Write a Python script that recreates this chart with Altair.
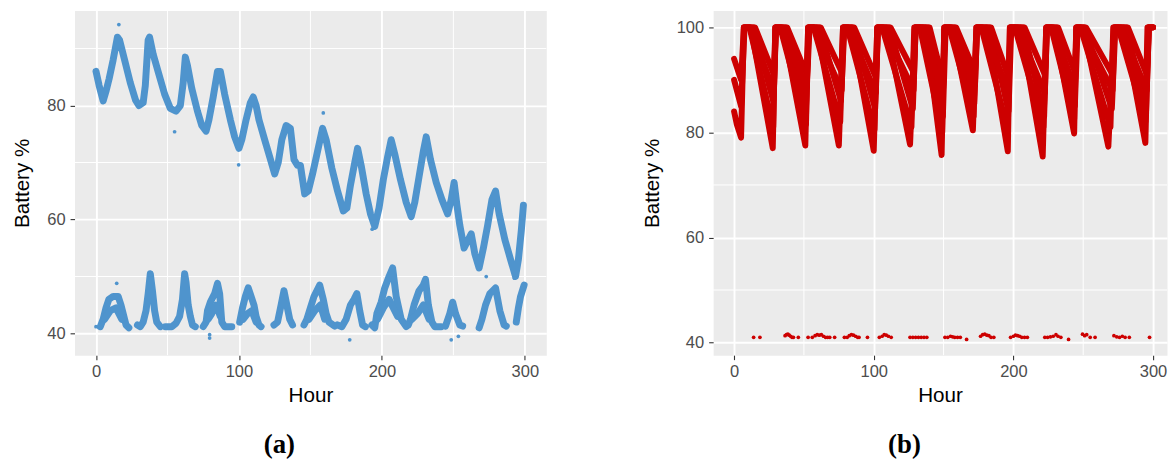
import altair as alt
import pandas as pd

BLUE = "#4F94CD"
RED = "#CD0000"

# ---------------- panel (a) ----------------
a_up_h = [0, 2.2, 5, 7, 9.2, 12, 15, 16.5, 20, 24, 27.6, 30, 33, 34.5, 36.5, 37.5, 40, 44, 48, 52,
          56, 59, 61, 62.5, 64, 67, 71, 74, 77, 79, 82, 85, 87, 90, 94, 97, 100, 102, 105, 108,
          110, 112, 114, 118, 121.5, 125, 127.5, 130, 133, 136, 138.5, 141, 143, 146, 148.5, 151.5,
          155, 158.5, 161, 165, 169, 173, 175.5, 178, 181, 183, 185.5, 189, 192, 195, 198, 201,
          204, 206.5, 209, 213, 217, 220.5, 223, 226, 229, 231, 234, 238, 242, 246, 248.5, 250.5,
          252.5, 254.5, 257.5, 262.5, 265, 268, 271, 274, 277, 279.5, 282, 286, 290, 293.5, 295.5,
          297.5, 299]
a_up_v = [86, 83.5, 80.8, 82.5, 84.7, 88, 92, 91.5, 88, 84, 81, 80, 80.5, 83.5, 91.5, 92, 89, 85.5, 82, 79.5,
          79, 80, 84, 88.5, 87, 83, 79, 76.5, 75.5, 77.5, 81.5, 86, 86, 82, 77.5, 74.5, 72.5, 74, 77.5, 80.5,
          81.5, 80, 77.5, 74, 71, 68, 70, 74, 76.5, 76, 70.5, 69.5, 69.5, 64.5, 65, 68,
          72, 76, 74, 69, 65, 61.5, 62, 66, 70, 72.5, 69.5, 64.5, 61, 58.8, 62, 67,
          71, 74, 71.5, 67, 63, 60.5, 63, 67.5, 72, 74.5, 70.5, 66.5, 63.5, 61, 63.5, 66.5,
          62.5, 59, 55, 57.5, 54, 51.5, 55, 59, 63.5, 65, 61, 56.5, 53, 50, 53,
          58, 62.5]

a_low_seg = [1] * 10 + [2] * 10 + [3] * 11 + [4] * 10 + [5] * 9 + [6] * 7 + [7] * 9 + [8] * 9 + \
            [9] * 10 + [10] * 10 + [11] * 6 + [12] * 8 + [13] * 4 + \
            [14] * 4 + [15] * 4 + [16] * 4 + [17] * 4 + [18] * 4 + [19] * 4
a_low_h = [3, 5, 7, 9, 12, 15.5, 17.5, 19.5, 21, 23,
           29, 31, 33, 35, 36.5, 38, 39.5, 41, 42.5, 45,
           48.5, 53, 56, 58.5, 60.5, 62, 63, 64.5, 66, 67.5, 69.5,
           75, 77, 78, 80, 83, 85, 86.5, 88, 90, 95,
           100.5, 102.5, 104.5, 106.5, 108.5, 110.5, 112, 114, 115.5,
           124.5, 127, 129.5, 131.5, 133.5, 135.5, 137.5,
           145.5, 147.5, 150, 152.5, 156.5, 159, 161, 163, 167,
           169, 172, 175, 178, 180.5, 182.5, 184.5, 186.5, 188.5,
           193, 195, 196.5, 199.5, 202, 205, 207.5, 210, 213.5, 217,
           218.5, 220, 222.5, 226, 229, 230.5, 232.5, 235, 237, 241.5,
           244.5, 247.5, 249.5, 251.5, 254.5, 256.5,
           268, 270, 272.5, 275.5, 279.5, 282.5, 285.5, 287,
           294, 295.5, 297, 299.5,
           6, 10, 14, 18,
           78.5, 81, 84, 87,
           103, 106, 109, 112,
           149, 153, 157, 160,
           197, 201, 205, 211,
           221, 225, 229, 233]
a_low_v = [41.2, 42.5, 44.5, 46, 46.5, 46.5, 45, 43, 41.5, 41,
           41.5, 41.2, 42, 44, 47, 50.5, 47.5, 44, 42, 41.2,
           41.2, 41.2, 41.8, 43, 46, 50.5, 49, 45, 43, 41.5, 41.2,
           41.2, 42, 44, 45.5, 47, 48.8, 47, 42, 41.2, 41.2,
           42, 44.5, 46.5, 48, 46.5, 45, 43, 41.5, 41.2,
           41.5, 42, 45, 47.5, 45, 42.5, 41.5,
           41.5, 42.5, 44.5, 46.5, 48.5, 46, 43.5, 42, 41.3,
           41.5, 41.2, 42.5, 45, 46, 47, 44, 41.5, 41.2,
           41.5, 41, 43.5, 45.5, 48, 50, 51.5, 46.5, 42.5, 41.2,
           41.5, 42.5, 45, 47.5, 48.5, 49.5, 45, 42, 41.2, 41.2,
           41.3, 43.5, 45.5, 43.5, 41.5, 41.3,
           41, 42.5, 45, 47, 48, 44, 41.5, 41.3,
           42, 44.5, 46.5, 48.5,
           42.5, 44, 44.5, 42.5,
           42.5, 43.5, 45, 43,
           42.5, 43.5, 44, 42,
           42.5, 44, 45, 42.5,
           42.5, 44.5, 46, 43,
           42.5, 43.5, 45, 42.5]

a_out_h = [0, 14.5, 79.5, 79.5, 177.5, 248.5, 253.5, 16, 55, 99.8, 159, 193.2, 273, 292.7]
a_out_v = [41.2, 48.8, 39.8, 39.2, 38.9, 38.9, 39.5, 94.2, 75.4, 69.6, 78.7, 58.3, 50, 49.7]

# ---------------- panel (b) ----------------
b_deep_h = [0, 2, 5, 7, 12, 27.7, 29.5, 35, 51, 53, 59, 75, 78, 84, 100, 102.5, 109, 126, 129.5, 137,
            148.6, 150.5, 156, 171, 173.5, 181, 196, 197.5, 205, 221, 223.5, 229, 243.5, 245, 250,
            268, 272, 279, 294.5, 296.5, 300]
b_deep_v = [84, 81.5, 79, 100, 100, 77, 100, 100, 77.5, 100, 100, 77.5, 100, 100, 76.5, 100, 100, 77.7, 100, 100,
            75.7, 100, 100, 80.4, 100, 100, 76.4, 100, 100, 75.4, 100, 100, 79.8, 100, 100,
            77.3, 100, 100, 78, 100, 100]

b_mid_h = [0, 5, 7.5, 14, 28, 30, 37, 51.5, 54, 61, 76.5, 79, 85, 101, 103, 111, 128, 130, 139,
           149.5, 151.5, 158, 172, 174, 183, 196.5, 198.5, 207, 222, 224, 231, 244, 246, 251,
           270.5, 273, 281, 295, 297, 300]
b_mid_v = [90, 85, 100, 100, 86, 100, 100, 85, 100, 100, 86, 100, 100, 84.5, 100, 100, 84.5, 100, 100,
           83, 100, 100, 85.5, 100, 100, 84, 100, 100, 83, 100, 100, 85, 100, 100,
           84.5, 100, 100, 84, 100, 100]

b_top_h = [0, 5, 7, 15, 28.5, 30, 38, 52, 53.5, 62, 77, 78.5, 86, 101.5, 103, 112, 128.5, 130, 140,
           149.5, 151, 159, 172.5, 174, 184, 196.5, 198, 208, 222.5, 224, 232, 244, 245.5, 252,
           271, 272.5, 282, 295.5, 297, 300]
b_top_v = [94, 90, 100, 100, 91, 100, 100, 91, 100, 100, 91.5, 100, 100, 90.5, 100, 100, 91.5, 100, 100,
           90, 100, 100, 91.5, 100, 100, 90.5, 100, 100, 91, 100, 100, 91.5, 100, 100,
           91, 100, 100, 91, 100, 100]

b_t4_h = [7, 11, 28, 29.5, 33, 51.5, 53, 57, 76, 78, 81, 100.5, 102.5, 106, 127, 129, 133, 149,
          150.5, 154, 171.5, 173.5, 177, 196, 197.5, 201, 221.5, 223.5, 227, 243.5, 245, 248,
          269.5, 271.5, 275, 294.5, 296, 300]
b_t4_v = [100, 100, 81, 100, 100, 81.5, 100, 100, 82, 100, 100, 80.5, 100, 100, 81, 100, 100, 80,
          100, 100, 83, 100, 100, 80.5, 100, 100, 81, 100, 100, 82.5, 100, 100,
          81, 100, 100, 82, 100, 100]

b_t5_h = [8, 11, 28.5, 30, 34, 52, 53.5, 57, 77, 78.5, 82, 101.5, 103, 107, 128.5, 130, 135, 149.5,
          151, 155, 172.5, 174, 178, 196.5, 198, 203, 222.5, 224, 228, 244, 245.5, 248, 271,
          272.5, 277, 295.5, 297, 300]
b_t5_v = [100, 100, 88, 100, 100, 88.5, 100, 100, 88, 100, 100, 87.5, 100, 100, 88, 100, 100, 87,
          100, 100, 89, 100, 100, 88, 100, 100, 87.5, 100, 100, 88.5, 100, 100, 88,
          100, 100, 88, 100, 100]

b_low_h = [14, 18.5, 36.5, 37.5, 38.5, 39.5, 40.5, 41.5, 42.5, 46, 53, 56, 58, 59.5, 61, 62.5, 64,
           65.5, 67, 68.5, 72, 79, 81, 82.5, 84, 85.5, 87, 88.5, 89.5, 95.5, 104, 106, 107.5, 109,
           110.5, 112.5, 126, 128, 130, 132, 134, 136, 138, 151, 153, 155, 156.5, 158, 160, 162,
           166.5, 176.5, 178, 179.5, 181, 182.5, 184, 186, 198, 200, 201.5, 203, 204.5, 206, 208,
           210, 222.5, 224.5, 226.5, 228.5, 230.5, 232, 234, 239.5, 249.5, 251, 252.5, 255, 258.5,
           272, 274, 276, 278, 280, 283, 297.5]
b_low_v = [41, 41, 41.3, 41.5, 41.6, 41.4, 41.2, 41, 41, 41, 41, 41, 41.3, 41.5, 41.4, 41.5, 41.2,
           41, 41, 41, 41, 41, 41, 41.3, 41.5, 41.4, 41.2, 41, 41, 41, 41, 41.2, 41.5, 41.4,
           41.2, 41, 41, 41, 41, 41, 41, 41, 41, 41, 41, 41.2, 41.1, 41, 41, 41,
           40.6, 41.2, 41.5, 41.6, 41.4, 41.3, 41, 41, 41, 41.2, 41.4, 41.3, 41.2, 41, 41,
           41, 41, 41, 41.1, 41.2, 41.5, 41.2, 41, 40.6, 41.6, 41.3, 41.5, 41, 41,
           41.3, 41.1, 41, 41.2, 41, 41, 41]

a_minor_x = [50, 150, 250]
a_minor_y = [50, 70, 90]
b_minor_x = [50, 150, 250]
b_minor_y = [50, 70, 90]
x_ticks = [0, 100, 200, 300]
a_y_ticks = [40, 60, 80]
b_y_ticks = [40, 60, 80, 100]

# ---------------- build data ----------------
df_a_up = pd.DataFrame({"h": a_up_h, "v": a_up_v, "seg": 0})
df_a_low = pd.DataFrame({"h": a_low_h, "v": a_low_v, "seg": a_low_seg})
df_a_line = pd.concat([df_a_up, df_a_low], ignore_index=True)
df_a_out = pd.DataFrame({"h": a_out_h, "v": a_out_v})

df_b_line = pd.concat([
    pd.DataFrame({"h": b_deep_h, "v": b_deep_v, "seg": "deep"}),
    pd.DataFrame({"h": b_mid_h, "v": b_mid_v, "seg": "mid"}),
    pd.DataFrame({"h": b_top_h, "v": b_top_v, "seg": "top"}),
    pd.DataFrame({"h": b_t4_h, "v": b_t4_v, "seg": "t4"}),
    pd.DataFrame({"h": b_t5_h, "v": b_t5_v, "seg": "t5"}),
], ignore_index=True)
df_b_low = pd.DataFrame({"h": b_low_h, "v": b_low_v})


def panel(line_df, pts_df, color, xdom, ydom, ymajor, minor_x, minor_y, width, label, sw):
    xs = alt.Scale(domain=xdom, nice=False, zero=False)
    ys = alt.Scale(domain=ydom, nice=False, zero=False)
    xax = alt.Axis(values=x_ticks, title="Hour", grid=True)
    yax = alt.Axis(values=ymajor, title="Battery %", grid=True)
    rx = alt.Chart(pd.DataFrame({"mx": minor_x})).mark_rule(color="white", strokeWidth=1).encode(
        x=alt.X("mx:Q", scale=xs, axis=xax))
    ry = alt.Chart(pd.DataFrame({"my": minor_y})).mark_rule(color="white", strokeWidth=1).encode(
        y=alt.Y("my:Q", scale=ys, axis=yax))
    ln = alt.Chart(line_df).mark_line(color=color, strokeWidth=sw, strokeCap="round",
                                      strokeJoin="round").encode(
        x=alt.X("h:Q", scale=xs, axis=xax),
        y=alt.Y("v:Q", scale=ys, axis=yax),
        detail="seg:N",
        order="h:Q")
    pt = alt.Chart(pts_df).mark_circle(color=color, size=14, opacity=1).encode(
        x=alt.X("h:Q", scale=xs, axis=xax),
        y=alt.Y("v:Q", scale=ys, axis=yax))
    return alt.layer(rx, ry, ln, pt).properties(
        width=width, height=347,
        title=alt.TitleParams(label, orient="bottom", anchor="middle", frame="bounds",
                              font="Liberation Serif", fontSize=27, fontWeight="bold",
                              color="black", offset=27))


pa = panel(df_a_line, df_a_out, BLUE, [-15, 315], [36.2, 96.67], a_y_ticks,
           a_minor_x, a_minor_y, 475, "(a)", 7)
pb = panel(df_b_line, df_b_low, RED, [-15, 310], [37.6, 103.2], b_y_ticks,
           b_minor_x, b_minor_y, 457, "(b)", 6)

chart = alt.hconcat(pa, pb, spacing=168, bounds="flush").properties(
    padding={"left": 3, "top": 0, "right": 0, "bottom": 0}, background="white"
).configure_view(
    fill="#EBEBEB", stroke="transparent"
).configure_axis(
    domain=False, gridColor="white", gridWidth=1.9,
    tickColor="#333333", tickSize=4.5, tickWidth=1.1,
    labelFont="Liberation Sans", labelFontSize=16.6, labelColor="#4D4D4D",
    titleFont="Liberation Sans", titleFontSize=20.8, titleFontWeight="normal",
    titleColor="black"
).configure_axisY(
    labelPadding=5, titlePadding=14
).configure_axisX(
    labelPadding=4, titlePadding=6
)

chart.save("out.html", embed_options={"renderer": "svg", "actions": False})
